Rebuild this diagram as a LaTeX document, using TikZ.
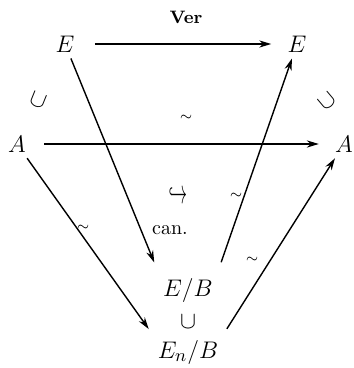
\documentclass[tikz,border=0pt]{standalone}
\usepackage{amsmath}
\usepackage{amssymb}
\usepackage{graphicx}
\usepackage{tikz}
\usetikzlibrary{arrows.meta,calc}

\tikzset{
  mapto/.style={->, line width=0.7pt, shorten <=1pt, shorten >=1pt},
  obj/.style={font=\fontsize{12.5}{14}\selectfont, inner sep=2pt},
  lbl/.style={font=\normalsize, inner sep=1pt},
  iso/.style={font=\scriptsize, inner sep=1pt}
}

\begin{document}
\begin{tikzpicture}[>={Stealth[length=6pt,width=3.6pt]}, x=0.5pt, y=-0.5pt]
\useasboundingbox (0,0) rectangle (353,368);

% objects
\node[obj] (Etl) at (65,44) {$E$};
\node[obj] (Etr) at (297,44) {$E$};
\node[obj] (Al) at (17,144) {$A$};
\node[obj] (Ar) at (344,144) {$A$};
\node[obj] (EB) at (188,290) {$E/B$};
\node[obj] (EnB) at (188,352) {$E_n/B$};

% inclusions
\node[obj, rotate=-22] (incl) at (38,100) {$\cup$};
\node[obj, rotate=40] (incr) at (327,101) {$\cup$};
\node[obj] (incb) at (188,322) {$\cup$};

% maps
\draw[mapto, shorten <=8pt, shorten >=6pt] (Etl) -- (Etr);
\node[lbl, font=\small\bfseries] (ver) at (186,17) {Ver};

\draw[mapto, shorten <=7pt, shorten >=6pt] (Al) -- (Ar);
\node[iso] (tA) at (186,118) {$\sim$};

\draw[mapto, shorten >=6pt] (Etl) -- (EB.north west);
\node[lbl] (hk) at (178,196) {\scalebox{0.85}[1.7]{$\hookrightarrow$}};
\node[lbl] (can) at (170,230) {can.};

\draw[mapto, shorten <=6pt] (EB.north east) -- (Etr);
\node[iso] (tE) at (236,196) {$\sim$};

\draw[mapto, shorten >=4pt] (Al) -- (EnB.north west);
\node[iso] (tl) at (83,228) {$\sim$};

\draw[mapto, shorten <=4pt] (EnB.north east) -- (Ar);
\node[iso] (tr) at (252,260) {$\sim$};

\end{tikzpicture}
\end{document}
